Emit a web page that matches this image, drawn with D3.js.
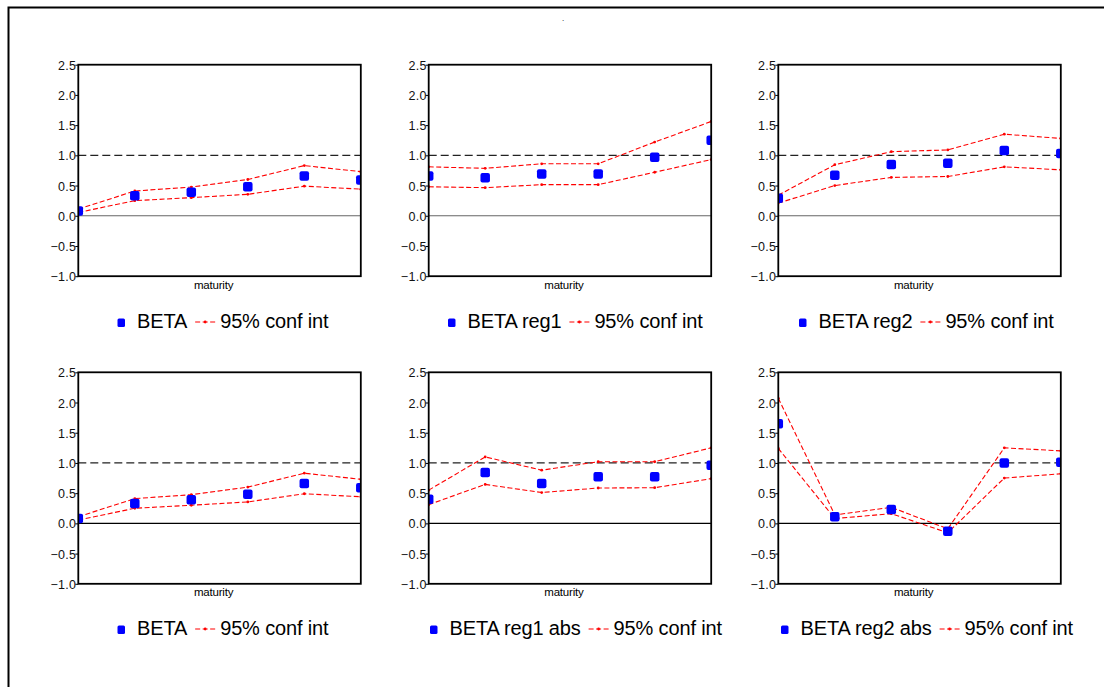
<!DOCTYPE html>
<html>
<head>
<meta charset="utf-8">
<script src="https://cdn.jsdelivr.net/npm/d3@7"></script>
<style>
  body { margin: 0; background: #fff; }
  svg { display: block; font-family: "Liberation Sans", Arial, sans-serif; }
</style>
</head>
<body>
<svg id="chart" width="1104" height="687"></svg>
<script>
// maturities (6 points along the x axis, no labels shown)
const maturities = [1, 2, 3, 4, 5, 6];
const yTicks = [-1.0, -0.5, 0.0, 0.5, 1.0, 1.5, 2.0, 2.5];

// panel 1 / panel 4: BETA
const beta = [0.08, 0.33, 0.39, 0.48, 0.66, 0.59];
const betaUp = [0.11, 0.41, 0.475, 0.60, 0.83, 0.73];
const betaLo = [0.055, 0.25, 0.30, 0.355, 0.49, 0.44];

// panel 2: BETA reg1
const reg1 = [0.66, 0.63, 0.69, 0.69, 0.97, 1.25];
const reg1Up = [0.81, 0.785, 0.86, 0.86, 1.22, 1.56];
const reg1Lo = [0.48, 0.465, 0.515, 0.515, 0.72, 0.93];

// panel 3: BETA reg2
const reg2 = [0.29, 0.67, 0.85, 0.87, 1.08, 1.03];
const reg2Up = [0.34, 0.845, 1.06, 1.09, 1.35, 1.28];
const reg2Lo = [0.21, 0.50, 0.635, 0.65, 0.81, 0.76];

// panel 5: BETA reg1 abs
const reg1Abs = [0.40, 0.84, 0.66, 0.77, 0.77, 0.96];
const reg1AbsUp = [0.55, 1.10, 0.88, 1.02, 1.02, 1.25];
const reg1AbsLo = [0.31, 0.645, 0.51, 0.585, 0.59, 0.74];

// panel 6: BETA reg2 abs
const reg2Abs = [1.65, 0.11, 0.23, -0.13, 1.00, 1.01];
const reg2AbsUp = [2.07, 0.14, 0.265, -0.09, 1.25, 1.20];
const reg2AbsLo = [1.24, 0.08, 0.16, -0.155, 0.75, 0.82];

const panels = [
  { name: "BETA", est: beta, up: betaUp, lo: betaLo },
  { name: "BETA reg1", est: reg1, up: reg1Up, lo: reg1Lo },
  { name: "BETA reg2", est: reg2, up: reg2Up, lo: reg2Lo },
  { name: "BETA", est: beta, up: betaUp, lo: betaLo },
  { name: "BETA reg1 abs", est: reg1Abs, up: reg1AbsUp, lo: reg1AbsLo },
  { name: "BETA reg2 abs", est: reg2Abs, up: reg2AbsUp, lo: reg2AbsLo },
];

const svg = d3.select("#chart");

// outer frame
svg.append("rect")
  .attr("x", 8.5).attr("y", 7.5)
  .attr("width", 1200).attr("height", 800)
  .attr("fill", "none").attr("stroke", "#000").attr("stroke-width", 2);

svg.append("text").attr("x", 563).attr("y", 21)
  .attr("text-anchor", "middle").attr("font-size", 8).text(".");

const plotLefts = [78.3, 428.7, 778.3];
const plotTops = [64.7, 372.3];
const plotW = 282.5;
const plotH = 211.5;
const legendLefts = [[117.5, 448, 799], [117.5, 430, 781]];
const legendBase = [328, 635];

panels.forEach((p, i) => {
  const col = i % 3;
  const row = Math.floor(i / 3);
  const g = svg.append("g")
    .attr("transform", `translate(${plotLefts[col]},${plotTops[row]})`);

  const x = d3.scaleLinear().domain([1, 6]).range([0, plotW]);
  const y = d3.scaleLinear().domain([-1, 2.5]).range([plotH, 0]);

  const clipId = "clip" + i;
  g.append("clipPath").attr("id", clipId)
    .append("rect").attr("width", plotW).attr("height", plotH);

  // y axis
  const yaxis = d3.axisLeft(y).tickValues(yTicks).tickSize(3)
    .tickFormat(d3.format(".1f"));
  const ga = g.append("g").call(yaxis)
    .attr("font-size", 12.5)
    .attr("font-family", "'Liberation Sans', Arial, sans-serif");
  ga.select(".domain").remove();
  ga.selectAll(".tick line").attr("stroke", "#000");
  ga.selectAll(".tick text")
    .attr("letter-spacing", 0.3)
    .attr("x", -2).attr("dy", "0.36em").attr("fill", "#111");

  // zero line
  g.append("line")
    .attr("x1", 0).attr("x2", plotW)
    .attr("y1", y(0)).attr("y2", y(0))
    .attr("stroke", row === 0 ? "#666" : "#000").attr("stroke-width", 1.2);

  // reference line at 1
  g.append("line")
    .attr("x1", 0).attr("x2", plotW)
    .attr("y1", y(1)).attr("y2", y(1))
    .attr("stroke", "#222").attr("stroke-width", 1.3)
    .attr("stroke-dasharray", "8,4");

  const inner = g.append("g").attr("clip-path", `url(#${clipId})`);

  const line = d3.line().x((d, j) => x(maturities[j])).y((d) => y(d));
  [p.up, p.lo].forEach((band) => {
    inner.append("path")
      .datum(band)
      .attr("d", line)
      .attr("fill", "none")
      .attr("stroke", "#ff0000").attr("stroke-width", 1.1)
      .attr("stroke-dasharray", "5,2.5");
    inner.selectAll(null)
      .data(band)
      .join("circle")
      .attr("cx", (d, j) => x(maturities[j]))
      .attr("cy", (d) => y(d))
      .attr("r", 1.4)
      .attr("fill", "#ff0000");
  });

  inner.selectAll("rect.est")
    .data(p.est)
    .join("rect")
    .attr("class", "est")
    .attr("x", (d, j) => x(maturities[j]) - 4.75)
    .attr("y", (d) => y(d) - 4.75)
    .attr("width", 9.5).attr("height", 9.5)
    .attr("rx", 2)
    .attr("fill", "#0000ff");

  // plot frame
  g.append("rect")
    .attr("width", plotW).attr("height", plotH)
    .attr("fill", "none").attr("stroke", "#000").attr("stroke-width", 1.8);

  // x label
  g.append("text")
    .attr("x", plotW / 2 - 6).attr("y", plotH + 12.5)
    .attr("text-anchor", "middle")
    .attr("font-size", 11.5).attr("letter-spacing", -0.2)
    .text("maturity");

  // legend
  const lx = legendLefts[row][col];
  const ly = legendBase[row];
  const lg = svg.append("g");
  lg.append("rect")
    .attr("x", lx).attr("y", ly - 9.5)
    .attr("width", 7.5).attr("height", 8.5).attr("rx", 1.5)
    .attr("fill", "#0000ff");
  const t1 = lg.append("text")
    .attr("x", lx + 19.5).attr("y", ly)
    .attr("font-size", 20).attr("letter-spacing", -0.15)
    .text(p.name);
  const sx = lx + 19.5 + t1.node().getComputedTextLength() + 8;
  lg.append("line")
    .attr("x1", sx).attr("x2", sx + 20)
    .attr("y1", ly - 6).attr("y2", ly - 6)
    .attr("stroke", "#ff0000").attr("stroke-width", 1.1)
    .attr("stroke-dasharray", "5,2.5");
  lg.append("circle")
    .attr("cx", sx + 10).attr("cy", ly - 6).attr("r", 1.4)
    .attr("fill", "#ff0000");
  lg.append("text")
    .attr("x", sx + 25).attr("y", ly)
    .attr("font-size", 20).attr("letter-spacing", -0.15)
    .text("95% conf int");
});
</script>
</body>
</html>
